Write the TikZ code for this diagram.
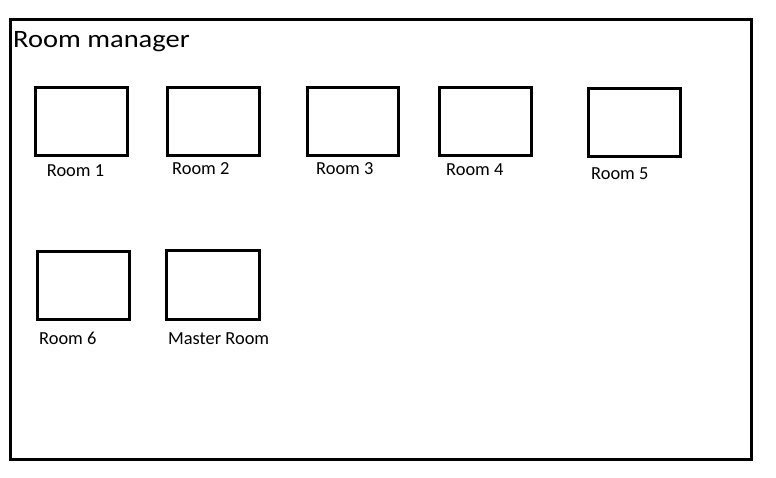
\documentclass[tikz,border=0pt]{standalone}
\usepackage{fontspec}
\setmainfont{Carlito}
\newfontfamily\titlefont[FakeStretch=1.14]{Carlito}
\begin{document}
\begin{tikzpicture}[x=1pt,y=-1pt,
  frame/.style={draw=black,line width=3pt},
  roombox/.style={draw=black,line width=3pt},
  lbl/.style={anchor=base west,inner sep=0pt,font=\fontsize{18.4}{20}\selectfont},
  title/.style={anchor=base west,inner sep=0pt,font=\titlefont\fontsize{25}{30}\selectfont}]
\useasboundingbox (0,0) rectangle (776,477);
\draw[frame] (10.5,19.5) rectangle (751.5,459.5);
\node[title] (t) at (13,47.3) {Room manager};
\draw[roombox] (35.5,87.5) rectangle (127.5,155.5) coordinate (r1);
\draw[roombox] (167.5,87.5) rectangle (259.5,155.5) coordinate (r2);
\draw[roombox] (307.5,87.5) rectangle (398.5,155.5) coordinate (r3);
\draw[roombox] (439.5,87.5) rectangle (531.5,155.5) coordinate (r4);
\draw[roombox] (588.5,88.5) rectangle (680.5,156.5) coordinate (r5);
\draw[roombox] (37.5,251.5) rectangle (129.5,319.5) coordinate (r6);
\draw[roombox] (166.5,250.5) rectangle (259.5,319.5) coordinate (rm);
\node[lbl] (l1) at (46.7,176.7) {Room 1};
\node[lbl] (l2) at (172,174.5) {Room 2};
\node[lbl] (l3) at (316,174.3) {Room 3};
\node[lbl] (l4) at (446,175.3) {Room 4};
\node[lbl] (l5) at (591,179) {Room 5};
\node[lbl] (l6) at (39,344) {Room 6};
\node[lbl] (lm) at (168,344) {Master Room};
\end{tikzpicture}
\end{document}
